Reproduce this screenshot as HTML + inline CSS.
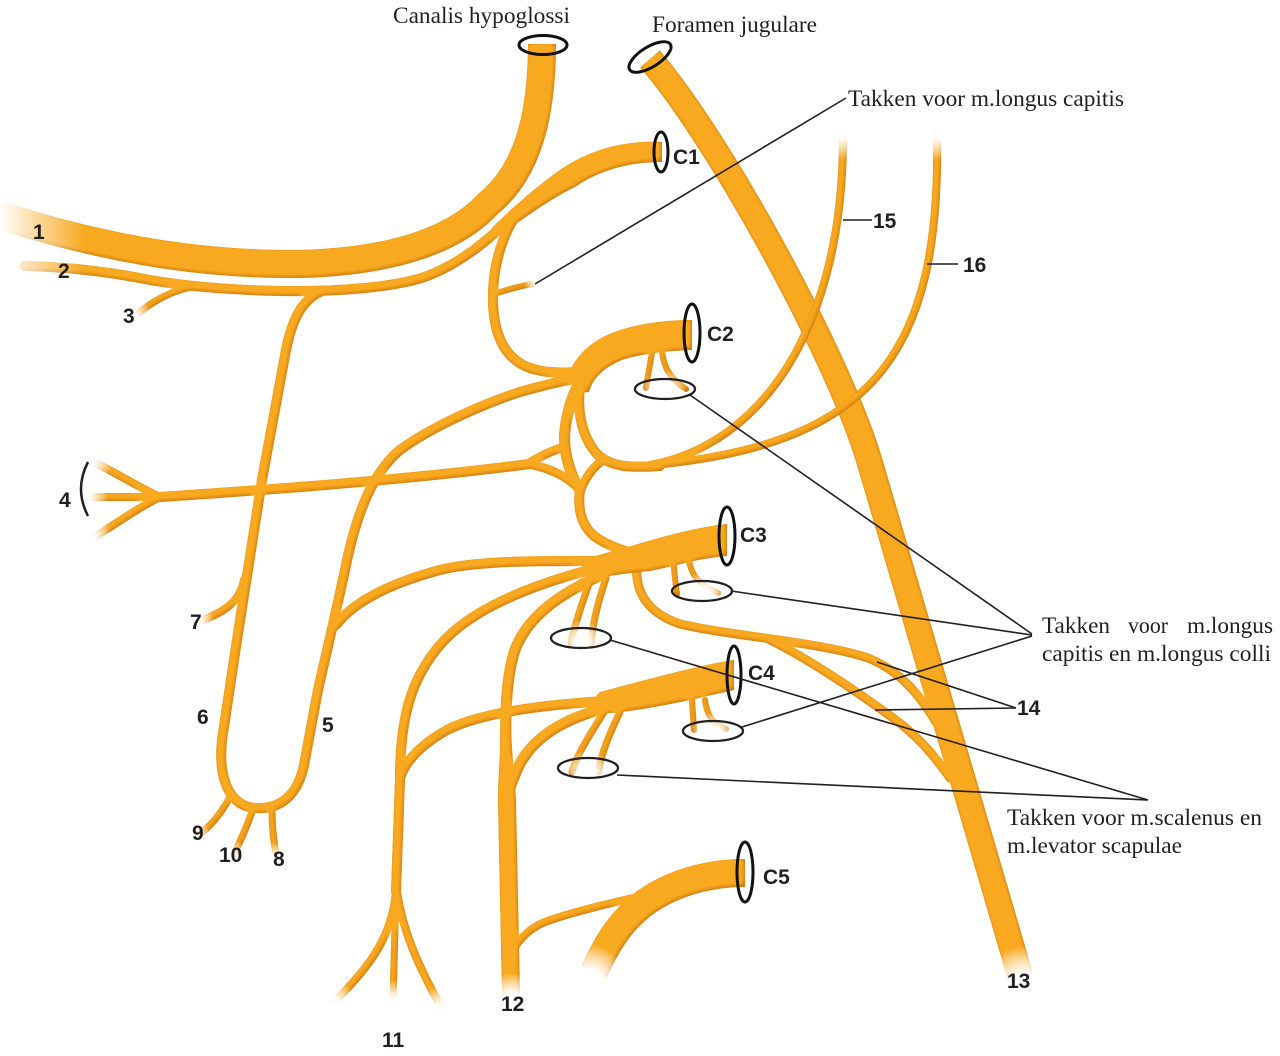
<!DOCTYPE html>
<html><head><meta charset="utf-8"><title>Plexus cervicalis</title>
<style>
html,body{margin:0;padding:0;background:#fff;width:1280px;height:1056px;overflow:hidden}
svg{display:block}
.lab{font-family:"Liberation Sans",Arial,sans-serif;font-weight:bold;font-size:21px;fill:#231f20}
.ser{font-family:"Liberation Serif","Times New Roman",serif;font-size:23px;fill:#231f20}
.ln{stroke:#231f20;stroke-width:1.6;fill:none}
.el{stroke:#231f20;stroke-width:2.3;fill:none}
.rg{stroke:#111;stroke-width:3;fill:none}
.fd{fill:url(#fd)}
</style></head><body>
<svg width="1280" height="1056" viewBox="0 0 1280 1056" xmlns="http://www.w3.org/2000/svg">
<defs>
 <filter id="sh" filterUnits="userSpaceOnUse" x="0" y="0" width="1280" height="1056" color-interpolation-filters="sRGB">
  <feGaussianBlur in="SourceAlpha" stdDeviation="3.2" result="b"/>
  <feOffset in="b" dx="-1.2" dy="-1.5" result="bo"/>
  <feComponentTransfer in="bo" result="m"><feFuncA type="linear" slope="1.8" intercept="-0.45"/></feComponentTransfer>
  <feFlood flood-color="#D47B0C" result="dc"/>
  <feComposite in="dc" in2="SourceAlpha" operator="in" result="dark"/>
  <feFlood flood-color="#F8A920" result="lc"/>
  <feComposite in="lc" in2="m" operator="in" result="light"/>
  <feComposite in="light" in2="SourceAlpha" operator="in" result="light2"/>
  <feMerge><feMergeNode in="dark"/><feMergeNode in="light2"/></feMerge>
 </filter>
 <radialGradient id="fd" cx="0.5" cy="0.5" r="0.5">
  <stop offset="0" stop-color="#fff" stop-opacity="1"/>
  <stop offset="0.35" stop-color="#fff" stop-opacity="0.95"/>
  <stop offset="0.7" stop-color="#fff" stop-opacity="0.5"/>
  <stop offset="1" stop-color="#fff" stop-opacity="0"/>
 </radialGradient>
 <linearGradient id="lf" x1="0" y1="0" x2="1" y2="0">
  <stop offset="0" stop-color="#fff" stop-opacity="1"/>
  <stop offset="1" stop-color="#fff" stop-opacity="0"/>
 </linearGradient>
</defs>

<!-- Vagus (13) with 14 branches merging -->
<g fill="none" stroke="#F2A01C" stroke-linecap="round" stroke-linejoin="round" filter="url(#sh)">
 <path stroke-linecap="butt" stroke-width="26" d="M650,59 C720,140 840,360 870,463 L1020,975"/>
 <path stroke-width="9" d="M637,560 C634,590 645,612 680,624 C730,636 820,642 868,658 C898,670 918,692 936,722"/>
 <path stroke-width="9" d="M770,640 C805,657 852,688 893,718 C915,734 932,752 950,778"/>
</g>

<!-- other nerves -->
<g fill="none" stroke="#F2A01C" stroke-linecap="round" stroke-linejoin="round" filter="url(#sh)">
 <!-- 1 hypoglossus -->
 <path stroke-linecap="butt" stroke-width="28" d="M542,44 C542,110 530,170 488,204 C450,245 380,262 300,264 C220,265 120,255 -10,212"/>
 <!-- 2 (continuation of C1) -->
 <path stroke-width="10" d="M505,224 C485,242 462,262 430,275 C400,287 340,292 280,291 C230,290 190,287 150,280 C110,272 70,267 25,266"/>
 <!-- C1 trunk -->
 <path fill="#F2A01C" stroke="none" d="M662,142 C620,140 585,152 557,172 C530,192 510,210 492,228 Q493,237 499,236 C522,220 548,200 575,187 C600,170 630,162 662,162 Z"/>
 <!-- loop C1-C2 -->
 <path stroke-width="10" d="M516,215 C503,235 494,262 493,292 C492,330 502,358 530,368 C545,373 558,373 578,372"/>
 <!-- stub longus capitis -->
 <path stroke-width="6" d="M494,294 C506,290 520,286 537,283"/>
 <!-- 3 -->
 <path stroke-width="7" d="M196,286 C172,290 152,301 134,317"/>
 <!-- 6 / 5 U loop -->
 <path stroke-width="10" d="M320,292 C302,300 292,320 286,350 L262,480 L237,640 L222,740 C218,780 230,806 255,808 C285,810 300,790 305,760 L318,690 L334,620 L345,570 C355,520 370,475 400,450 C430,428 480,405 520,392 C545,385 565,380 580,378"/>
 <!-- 7 -->
 <path stroke-width="8" d="M244,580 C240,600 228,611 198,622"/>
 <!-- 9 10 8 -->
 <path stroke-width="7" d="M230,797 C222,812 212,826 196,837"/>
 <path stroke-width="7" d="M253,809 C248,824 242,838 233,856"/>
 <path stroke-width="7" d="M272,809 C272,824 273,840 277,858"/>
 <!-- 4 -->
 <path stroke-width="10" d="M160,497 C250,491 400,481 530,464"/>
 <path stroke-width="8" d="M160,497 C140,488 118,474 92,461"/>
 <path stroke-width="8" d="M160,497 L86,497"/>
 <path stroke-width="8" d="M160,497 C140,507 118,522 92,539"/>
 <!-- junction triangle -->
 <path stroke-width="9" d="M528,464 C542,455 553,450 565,447"/>
 <path stroke-width="9" d="M528,464 C550,468 568,477 580,490"/>
 <path stroke-width="11" d="M578,385 C568,405 563,430 565,447 C567,462 572,478 580,490"/>
 <path stroke-width="10" d="M580,388 C577,412 582,438 598,455 C612,467 630,468 660,466"/>
 <path stroke-width="9" d="M603,460 C592,468 585,478 580,492"/>
 <path stroke-width="10" d="M580,490 C577,512 583,530 600,540 C612,547 625,552 645,556"/>
 <!-- 15 16 -->
 <path stroke-width="8" d="M843,130 C845,330 760,445 650,465"/>
 <path stroke-width="8" d="M937,130 C942,360 870,450 630,467"/>
 <!-- C2 trunk -->
 <path fill="#F2A01C" stroke="none" d="M692,320 C665,320 635,324 612,333 C592,341 575,355 567,378 Q577,394 589,392 C593,378 603,368 622,360 C640,354 665,351 692,350 Z"/>
 <path stroke-width="6" d="M652,352 C650,365 648,375 646,388"/>
 <path stroke-width="6" d="M662,352 C664,365 668,378 686,389"/>
 <!-- C3 trunk -->
 <path fill="#F2A01C" stroke="none" d="M727,524 C700,527 672,534 645,542 C625,548 603,554 588,558 Q576,570 590,579 C608,576 628,573 650,571 C675,566 700,558 727,556 Z"/>
 <path stroke-width="10" d="M600,561 C550,561 480,560 440,570 C395,582 355,600 336,625"/>
 <path stroke-width="10" d="M597,568 C530,585 470,610 440,645 C410,680 400,720 400,780 L396,892"/>
 <path stroke-width="11" d="M605,573 C570,590 530,610 515,650 C505,680 505,720 506,790"/>
 <path stroke-width="7" d="M592,575 C584,598 576,620 571,643"/>
 <path stroke-width="7" d="M606,578 C599,600 593,620 591,643"/>
 <path stroke-width="6" d="M673,556 C674,570 675,580 677,594"/>
 <path stroke-width="6" d="M688,555 C690,575 700,586 718,593"/>
 <!-- C4 trunk -->
 <path fill="#F2A01C" stroke="none" d="M734,660 C700,665 650,679 600,692 Q588,702 600,714 C645,711 690,700 734,690 Z"/>
 <path stroke-width="10" d="M606,701 C540,705 480,713 447,730 C422,744 406,760 400,778"/>
 <path stroke-width="11" d="M614,706 C570,716 532,735 517,770 C512,782 508,792 506,800"/>
 <path stroke-width="7" d="M604,712 C590,735 578,752 572,772"/>
 <path stroke-width="7" d="M620,712 C609,735 602,752 598,772"/>
 <path stroke-width="6" d="M692,700 L694,730"/>
 <path stroke-width="6" d="M705,700 C707,716 713,724 726,729"/>
 <!-- 11 lower -->
 <path stroke-width="8" d="M396,892 C392,935 372,965 334,1002"/>
 <path stroke-width="7" d="M396,892 L393,1002"/>
 <path stroke-width="8" d="M397,892 C403,932 418,965 441,1007"/>
 <!-- 12 lower (tapered) -->
 <path fill="#F2A01C" stroke="none" d="M501,725 C500,760 498,780 498,800 L502,994 L520,994 L516,800 C515,780 512,760 511,725 Z"/>
 <!-- C5 -->
 <path stroke-linecap="butt" stroke-width="28" d="M745,873 C705,873 668,885 642,905 C620,922 606,945 594,972"/>
 <path stroke-width="8" d="M655,893 C615,902 572,912 545,922 C530,928 520,938 512,952"/>
</g>

<!-- fading ends -->
<rect x="0" y="185" width="85" height="110" fill="url(#lf)"/>
<circle class="fd" cx="843" cy="128" r="32"/>
<circle class="fd" cx="937" cy="128" r="32"/>
<circle class="fd" cx="131" cy="319" r="22"/>
<circle class="fd" cx="88" cy="459" r="26"/>
<circle class="fd" cx="82" cy="497" r="26"/>
<circle class="fd" cx="88" cy="541" r="26"/>
<circle class="fd" cx="195" cy="623" r="20"/>
<circle class="fd" cx="193" cy="839" r="20"/>
<circle class="fd" cx="231" cy="860" r="20"/>
<circle class="fd" cx="278" cy="862" r="20"/>
<circle class="fd" cx="540" cy="282" r="16"/>
<circle class="fd" cx="664" cy="392" r="22"/>
<circle class="fd" cx="703" cy="594" r="22"/>
<circle class="fd" cx="582" cy="642" r="22"/>
<circle class="fd" cx="713" cy="734" r="22"/>
<circle class="fd" cx="588" cy="772" r="22"/>
<circle class="fd" cx="332" cy="1006" r="26"/>
<circle class="fd" cx="393" cy="1006" r="26"/>
<circle class="fd" cx="443" cy="1011" r="26"/>
<circle class="fd" cx="511" cy="1001" r="28"/>
<circle class="fd" cx="590" cy="980" r="36"/>
<circle class="fd" cx="1023" cy="984" r="38"/>

<!-- rings -->
<ellipse class="rg" cx="543" cy="45" rx="24" ry="9.5"/>
<ellipse class="rg" cx="650" cy="57" rx="24" ry="10" transform="rotate(-32 650 57)"/>
<ellipse class="rg" cx="661" cy="152" rx="7" ry="20"/>
<ellipse class="rg" cx="692" cy="333" rx="8" ry="29"/>
<ellipse class="rg" cx="727" cy="536" rx="8" ry="29"/>
<ellipse class="rg" cx="734" cy="675" rx="7" ry="29"/>
<ellipse class="rg" cx="745" cy="872" rx="8" ry="30"/>

<!-- small ellipses -->
<ellipse class="el" cx="665" cy="389" rx="30" ry="10"/>
<ellipse class="el" cx="702" cy="591" rx="30" ry="10"/>
<ellipse class="el" cx="581" cy="638" rx="30" ry="10"/>
<ellipse class="el" cx="713" cy="731" rx="30" ry="10"/>
<ellipse class="el" cx="588" cy="768" rx="30" ry="10"/>

<!-- leader lines -->
<path class="ln" d="M535,284 L846,98"/>
<path class="ln" d="M690,395 L1032,634"/>
<path class="ln" d="M731,591 L1032,635"/>
<path class="ln" d="M742,727 L1032,636"/>
<path class="ln" d="M610,640 L1148,800"/>
<path class="ln" d="M617,775 L1148,800"/>
<path class="ln" d="M877,662 L1016,708"/>
<path class="ln" d="M875,710 L1016,708"/>
<path class="ln" d="M843,220 L872,220"/>
<path class="ln" d="M927,264 L958,264"/>
<path d="M88,462 Q74,489 88,516" stroke="#231f20" stroke-width="2.5" fill="none"/>

<!-- bold labels -->
<text class="lab" x="33" y="239">1</text>
<text class="lab" x="58" y="278">2</text>
<text class="lab" x="123" y="323">3</text>
<text class="lab" x="673" y="164">C1</text>
<text class="lab" x="873" y="228">15</text>
<text class="lab" x="963" y="272">16</text>
<text class="lab" x="707" y="341">C2</text>
<text class="lab" x="59" y="507">4</text>
<text class="lab" x="740" y="542">C3</text>
<text class="lab" x="190" y="629">7</text>
<text class="lab" x="197" y="724">6</text>
<text class="lab" x="322" y="732">5</text>
<text class="lab" x="748" y="680">C4</text>
<text class="lab" x="1017" y="715">14</text>
<text class="lab" x="192" y="840">9</text>
<text class="lab" x="219" y="862">10</text>
<text class="lab" x="273" y="866">8</text>
<text class="lab" x="763" y="884">C5</text>
<text class="lab" x="501" y="1011">12</text>
<text class="lab" x="382" y="1047">11</text>
<text class="lab" x="1007" y="988">13</text>

<!-- serif labels -->
<text class="ser" x="393" y="23" textLength="177" lengthAdjust="spacingAndGlyphs">Canalis hypoglossi</text>
<text class="ser" x="652" y="32" textLength="165" lengthAdjust="spacingAndGlyphs">Foramen jugulare</text>
<text class="ser" x="848" y="106" textLength="276" lengthAdjust="spacingAndGlyphs">Takken voor m.longus capitis</text>
<text class="ser" x="1042" y="633" textLength="68" lengthAdjust="spacingAndGlyphs">Takken</text>
<text class="ser" x="1128" y="633" textLength="40" lengthAdjust="spacingAndGlyphs">voor</text>
<text class="ser" x="1187" y="633" textLength="86" lengthAdjust="spacingAndGlyphs">m.longus</text>
<text class="ser" x="1042" y="661" textLength="229" lengthAdjust="spacingAndGlyphs">capitis en m.longus colli</text>
<text class="ser" x="1007" y="825" textLength="255" lengthAdjust="spacingAndGlyphs">Takken voor m.scalenus en</text>
<text class="ser" x="1007" y="853" textLength="175" lengthAdjust="spacingAndGlyphs">m.levator scapulae</text>
</svg>
</body></html>
